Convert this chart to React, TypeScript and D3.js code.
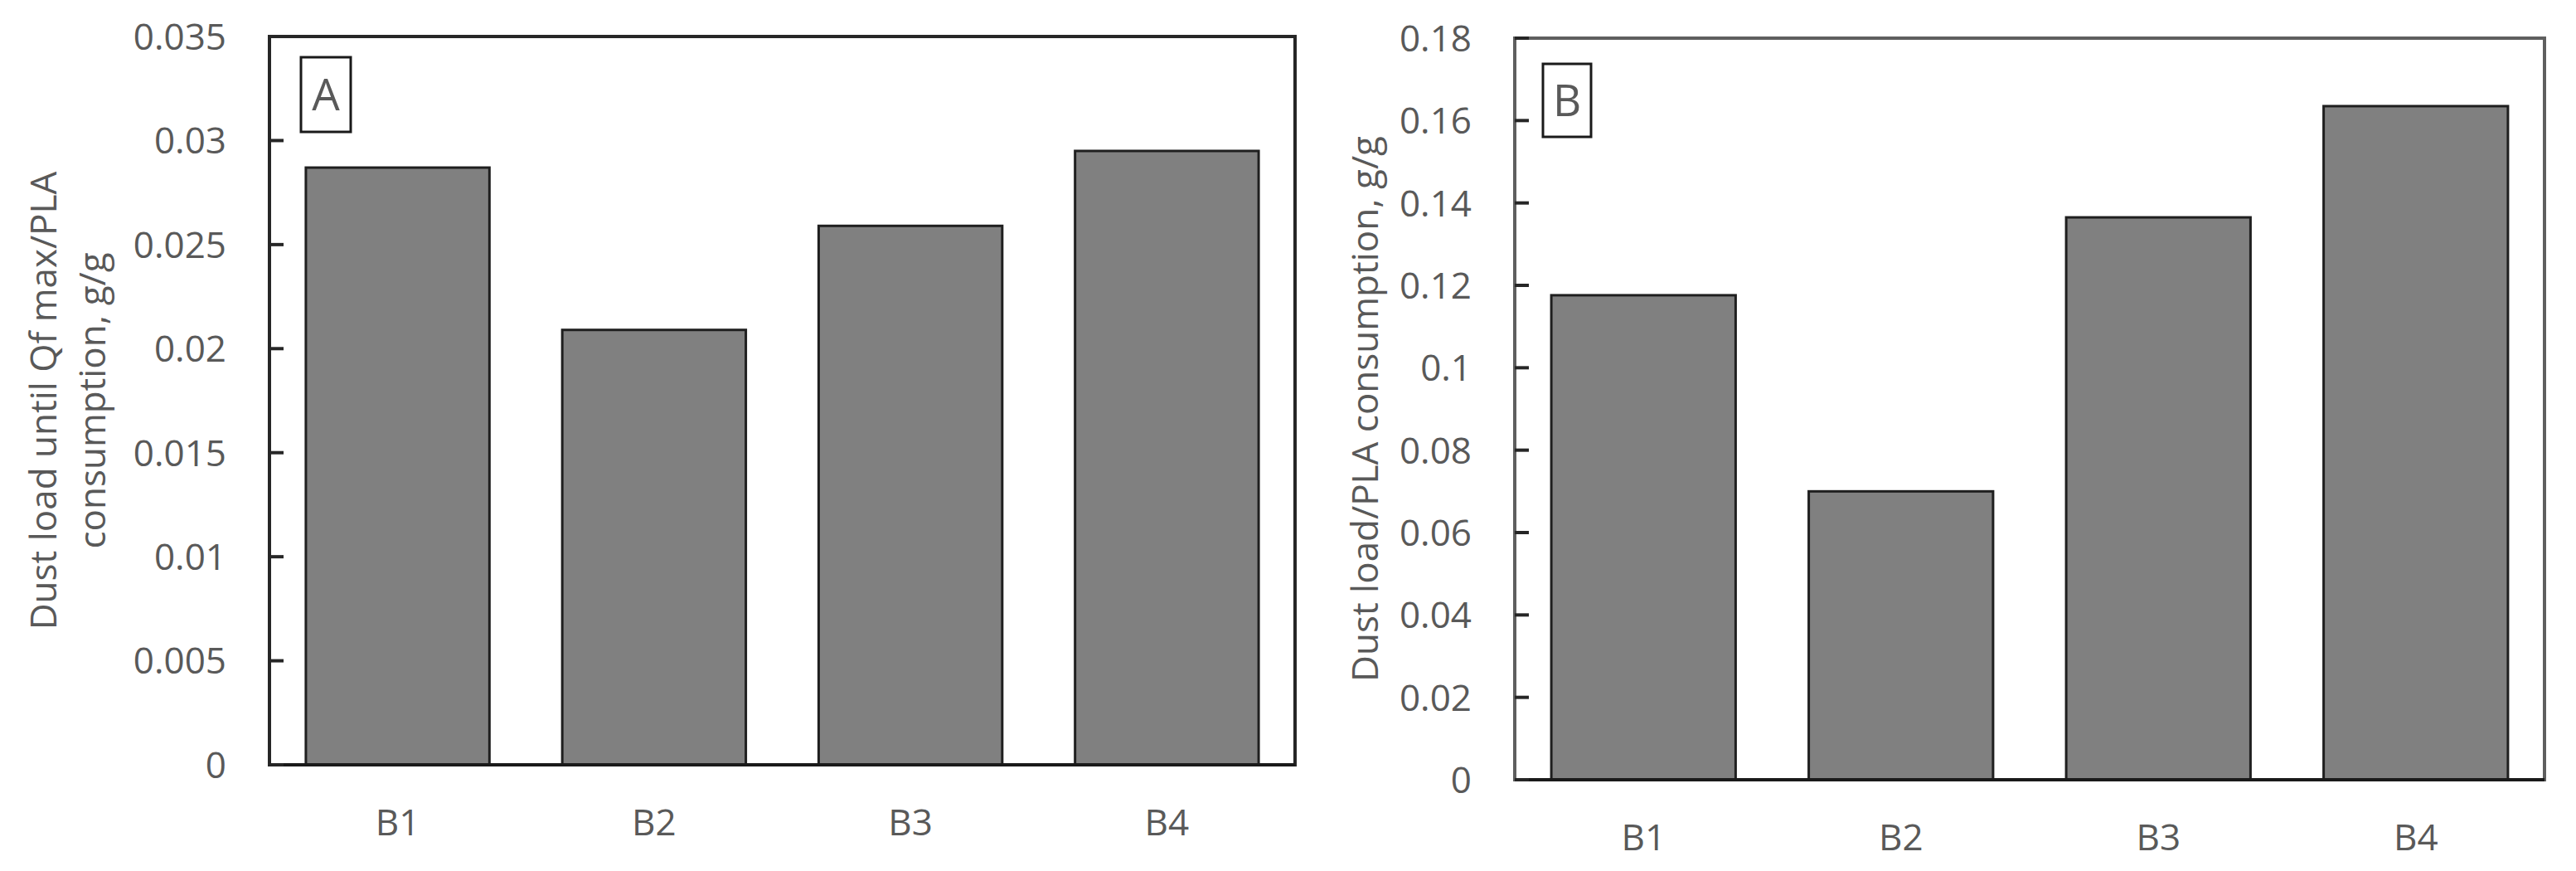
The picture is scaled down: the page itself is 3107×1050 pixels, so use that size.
import React from "react";
import * as d3 from "d3";

const CATEGORIES = ["B1", "B2", "B3", "B4"];

// panel A: dust load until Qf max / PLA consumption
const DUST_UNTIL_QF = [0.0287, 0.0209, 0.0259, 0.0295];
const TICKS_A = [0, 0.005, 0.01, 0.015, 0.02, 0.025, 0.03, 0.035];
const TICK_LABELS_A = ["0", "0.005", "0.01", "0.015", "0.02", "0.025", "0.03", "0.035"];
const TITLE_A = ["Dust load until Qf max/PLA", "consumption, g/g"];

// panel B: dust load / PLA consumption
const DUST_TOTAL = [0.1176, 0.07, 0.1365, 0.1635];
const TICKS_B = [0, 0.02, 0.04, 0.06, 0.08, 0.1, 0.12, 0.14, 0.16, 0.18];
const TICK_LABELS_B = ["0", "0.02", "0.04", "0.06", "0.08", "0.1", "0.12", "0.14", "0.16", "0.18"];
const TITLE_B = ["Dust load/PLA consumption, g/g"];

const WIDTH = 3107;
const HEIGHT = 1050;
const FONT = "'Open Sans', 'Noto Sans', sans-serif";
const TEXT_COLOR = "#595959";
const BAR_FILL = "#808080";
const BAR_STROKE = "#1f1f1f";

type PanelProps = {
  values: number[];
  ticks: number[];
  tickLabels: string[];
  title: string[];
  letter: string;
  left: number;
  right: number;
  top: number;
  bottom: number;
  frameColor: string;
  titleX: number;
  boxX: number;
  boxY: number;
  boxW: number;
  boxH: number;
};

const Panel = ({
  values,
  ticks,
  tickLabels,
  title,
  letter,
  left,
  right,
  top,
  bottom,
  frameColor,
  titleX,
  boxX,
  boxY,
  boxW,
  boxH,
}: PanelProps) => {
  const xScale = d3
    .scaleBand()
    .domain(CATEGORIES)
    .range([left, right])
    .paddingInner(0.284)
    .paddingOuter(0.142);

  const yScale = d3
    .scaleLinear()
    .domain([0, ticks[ticks.length - 1]])
    .range([bottom, top]);

  const midY = (top + bottom) / 2;
  const lineGap = 59;

  return (
    <g>
      {/* frame */}
      <rect
        x={left}
        y={top}
        width={right - left}
        height={bottom - top}
        fill="white"
        stroke={frameColor}
        strokeWidth={4}
      />

      {/* bars */}
      {CATEGORIES.map((c, i) => (
        <rect
          key={c}
          x={xScale(c)}
          y={yScale(values[i])}
          width={xScale.bandwidth()}
          height={bottom - yScale(values[i])}
          fill={BAR_FILL}
          stroke={BAR_STROKE}
          strokeWidth={3}
        />
      ))}

      <line x1={left} x2={right} y1={bottom} y2={bottom} stroke="#1a1a1a" strokeWidth={4} />

      {/* inward ticks + labels */}
      {ticks.map((t, i) => (
        <g key={i}>
          <line
            x1={left}
            x2={left + 17}
            y1={yScale(t)}
            y2={yScale(t)}
            stroke="#262626"
            strokeWidth={4}
          />
          <text
            x={left - 52}
            y={yScale(t)}
            dy="0.36em"
            textAnchor="end"
            fontSize={44}
            fontFamily={FONT}
            fill={TEXT_COLOR}
          >
            {tickLabels[i]}
          </text>
        </g>
      ))}

      {/* category labels */}
      {CATEGORIES.map((c) => (
        <text
          key={c}
          x={(xScale(c) ?? 0) + xScale.bandwidth() / 2}
          y={bottom + 85}
          textAnchor="middle"
          fontSize={44}
          fontFamily={FONT}
          fill={TEXT_COLOR}
        >
          {c}
        </text>
      ))}

      {/* y title */}
      {title.map((line, i) => (
        <text
          key={i}
          transform={`translate(${titleX + i * lineGap},${midY}) rotate(-90)`}
          textAnchor="middle"
          fontSize={44}
          fontFamily={FONT}
          fill={TEXT_COLOR}
        >
          {line}
        </text>
      ))}

      {/* panel letter */}
      <rect x={boxX} y={boxY} width={boxW} height={boxH} fill="white" stroke="#1a1a1a" strokeWidth={3} />
      <text
        x={boxX + boxW / 2}
        y={boxY + boxH / 2}
        dy="0.36em"
        textAnchor="middle"
        fontSize={53}
        fontFamily={FONT}
        fill={TEXT_COLOR}
      >
        {letter}
      </text>
    </g>
  );
};

const App = () => {
  return (
    <svg
      width={WIDTH}
      height={HEIGHT}
      style={{ position: "absolute", left: 0, top: 0, background: "white" }}
    >
      <rect width={WIDTH} height={HEIGHT} fill="white" />
      <Panel
        values={DUST_UNTIL_QF}
        ticks={TICKS_A}
        tickLabels={TICK_LABELS_A}
        title={TITLE_A}
        letter="A"
        left={325}
        right={1562}
        top={44}
        bottom={922}
        frameColor="#262626"
        titleX={68}
        boxX={363}
        boxY={69}
        boxW={60}
        boxH={90}
      />
      <Panel
        values={DUST_TOTAL}
        ticks={TICKS_B}
        tickLabels={TICK_LABELS_B}
        title={TITLE_B}
        letter="B"
        left={1827}
        right={3069}
        top={46}
        bottom={940}
        frameColor="#5f5f5f"
        titleX={1662}
        boxX={1861}
        boxY={77}
        boxW={58}
        boxH={88}
      />
    </svg>
  );
};

export default App;
